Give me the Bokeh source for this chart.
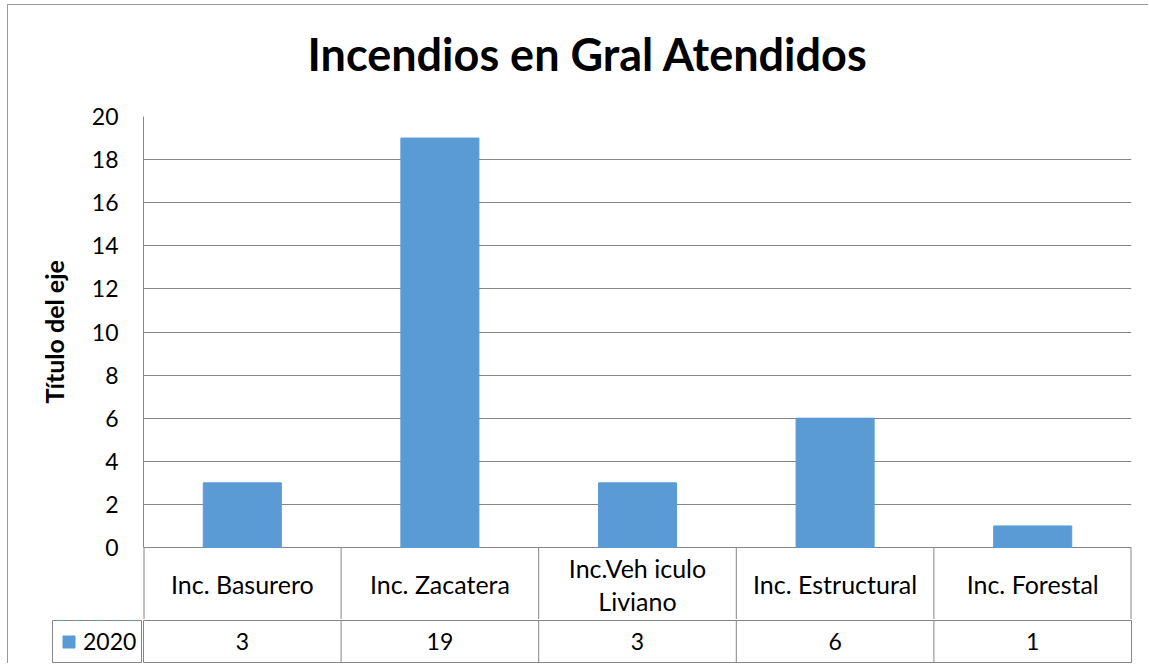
from bokeh.plotting import figure
from bokeh.models import (Range1d, FactorRange, FixedTicker, Legend, LegendItem,
                          ColumnDataSource, Title, Spacer)
from bokeh.layouts import column, row
from bokeh.transform import dodge
from bokeh.core.properties import value
from bokeh.embed import file_html
from bokeh.resources import INLINE

# ---------------- data ----------------
categories = ["Inc. Basurero", "Inc. Zacatera", "Inc.Veh iculo\nLiviano", "Inc. Estructural", "Inc. Forestal"]
counts_2020 = [3, 19, 3, 6, 1]
series_name = "2020"
y_ticks = [0, 2, 4, 6, 8, 10, 12, 14, 16, 18, 20]
title_text = "Incendios en Gral Atendidos"
y_axis_title = "Título del eje"

# ---------------- styling / layout (page pixels) ----------------
FONT = "Lato"
GRID = "#868686"
BAR = "#5B9BD5"
PAGE_X0, PAGE_Y0 = 8, 5          # first canvas pixel (after margin + 1px border)
PAGE_RIGHT = 1148
FRAME_LEFT, FRAME_RIGHT = 143, 1131
FRAME_TOP, AXIS_ZERO = 116, 547
ROW_DIV, TABLE_BOTTOM = 620, 662
T_BOTTOM = 100
A_BOTTOM = ROW_DIV - 1
PPU = (AXIS_ZERO - FRAME_TOP) / (y_ticks[-1] - y_ticks[0])


def py(px):
    return -(px - AXIS_ZERO) / PPU


source = ColumnDataSource(dict(
    cat=categories,
    val=counts_2020,
    val_txt=[str(v) for v in counts_2020],
))
inner = ColumnDataSource(dict(cat=categories[:-1]))
first = ColumnDataSource(dict(cat=categories[:1]))
last = ColumnDataSource(dict(cat=categories[-1:]))

x_range = FactorRange(*categories)

# ---------------- chart title strip ----------------
t = figure(
    width=PAGE_RIGHT - PAGE_X0, height=T_BOTTOM - PAGE_Y0,
    x_axis_type=None, y_axis_type=None,
    output_backend="svg", toolbar_location=None,
    min_border_left=FRAME_LEFT - PAGE_X0, min_border_right=PAGE_RIGHT - FRAME_RIGHT,
    min_border_top=0, min_border_bottom=0,
)
t.outline_line_color = None
t.grid.visible = False
t.title = Title(text=title_text, align="left", offset=164, standoff=40,
                text_font=FONT, text_font_size="45px", text_font_style="bold",
                text_color="black")

# ---------------- main chart (with header row of the data table) ----------------
p = figure(
    width=PAGE_RIGHT - PAGE_X0, height=A_BOTTOM - T_BOTTOM,
    x_range=x_range, y_range=Range1d(py(A_BOTTOM), y_ticks[-1]),
    output_backend="svg", toolbar_location=None,
    min_border_left=FRAME_LEFT - PAGE_X0, min_border_right=PAGE_RIGHT - FRAME_RIGHT,
    min_border_top=FRAME_TOP - T_BOTTOM, min_border_bottom=0,
)
p.outline_line_color = None
p.xaxis.visible = False
p.xgrid.visible = False

ax = p.yaxis[0]
ax.ticker = FixedTicker(ticks=y_ticks)
ax.bounds = (y_ticks[0], y_ticks[-1])
ax.axis_line_color = GRID
ax.major_tick_out = 0
ax.major_tick_in = 0
ax.minor_tick_out = 0
ax.minor_tick_in = 0
ax.major_label_text_font = FONT
ax.major_label_text_font_size = "23px"
ax.major_label_text_color = "black"
ax.major_label_standoff = 25

# axis title, centred on the value axis (0..20) rather than on the whole frame
p.add_layout(Title(text=y_axis_title, align="left", offset=A_BOTTOM - 403,
                   vertical_align="bottom", standoff=40,
                   text_font=FONT, text_font_size="25px", text_font_style="bold",
                   text_color="black"), "left")

p.ygrid.ticker = FixedTicker(ticks=y_ticks)
p.ygrid.grid_line_color = GRID

bars = p.vbar(x="cat", top="val", bottom=0, width=0.395, source=source,
              fill_color=BAR, line_color=BAR)

# header row borders
p.segment(x0=dodge("cat", 0.5, range=x_range), x1=dodge("cat", 0.5, range=x_range),
          y0=0, y1=py(A_BOTTOM + 5), source=inner, line_color=GRID, line_width=1)
p.segment(x0=dodge("cat", 0.5, range=x_range), x1=dodge("cat", 0.5, range=x_range),
          y0=0, y1=py(A_BOTTOM + 5), source=last, line_color=GRID, line_width=2)
p.segment(x0=dodge("cat", -0.5, range=x_range), x1=dodge("cat", -0.5, range=x_range),
          y0=0, y1=py(A_BOTTOM + 5), source=first, line_color=GRID, line_width=2)
p.text(x="cat", y=py((AXIS_ZERO + ROW_DIV) / 2), text="cat", source=source,
       text_align="center", text_baseline="middle", text_font=value(FONT),
       text_font_size="25px", text_color="black", text_line_height=1.1)

# ---------------- values row of the data table ----------------
ROW_H = TABLE_BOTTOM - ROW_DIV + 2
b = figure(
    width=PAGE_RIGHT - (FRAME_LEFT - 1), height=ROW_H,
    x_range=x_range, y_range=Range1d(0, 1),
    x_axis_type=None, y_axis_type=None,
    output_backend="svg", toolbar_location=None,
    min_border_left=1, min_border_right=PAGE_RIGHT - FRAME_RIGHT,
    min_border_top=1, min_border_bottom=1,
)
b.outline_line_color = GRID
b.outline_line_width = 1
b.segment(x0=dodge("cat", 0.5, range=x_range), x1=dodge("cat", 0.5, range=x_range),
          y0=-1, y1=2, source=inner, line_color=GRID, line_width=1)
b.text(x="cat", y=0.5, text="val_txt", source=source,
       text_align="center", text_baseline="middle", text_font=value(FONT),
       text_font_size="23px", text_color="black")

# ---------------- legend cell of the data table ----------------
LEG_LEFT = 52
lg = figure(
    width=(FRAME_LEFT - 1) - (LEG_LEFT - 1), height=ROW_H,
    x_range=x_range, y_range=Range1d(-2, -1),
    x_axis_type=None, y_axis_type=None,
    output_backend="svg", toolbar_location=None,
    min_border_left=1, min_border_right=0, min_border_top=1, min_border_bottom=1,
)
lg.outline_line_color = GRID
lg.outline_line_width = 1
# same series; its bars lie above this small frame, only its legend key shows
key = lg.vbar(x="cat", top="val", bottom=0, width=0.395, source=source,
              fill_color=BAR, line_color=BAR)
legend = Legend(items=[LegendItem(label=series_name, renderers=[key])],
                location="left", border_line_color=None,
                background_fill_alpha=0, padding=0, margin=9, spacing=0,
                glyph_width=15, glyph_height=15, label_standoff=7,
                label_text_font=FONT, label_text_font_size="23px",
                label_text_color="black", label_height=15)
lg.add_layout(legend, "center")

layout = column(
    t,
    p,
    row(Spacer(width=(LEG_LEFT - 1) - PAGE_X0, height=ROW_H), lg, b),
    styles={"margin-left": "7px", "margin-top": "4px",
            "border-left": "1px solid #9a9a9a", "border-top": "1px solid #9a9a9a"},
)

open("out.html", "w").write(file_html(layout, INLINE))
